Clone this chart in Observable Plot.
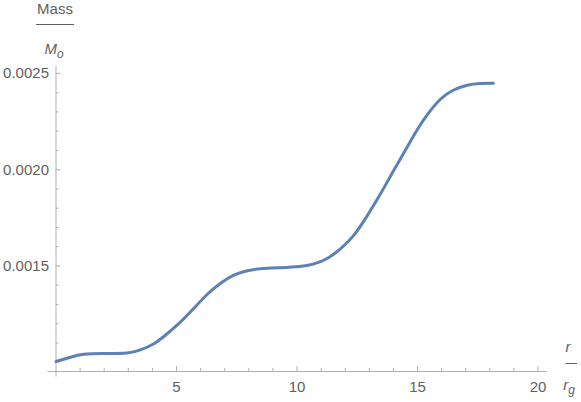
<!DOCTYPE html>
<html><head><meta charset="utf-8">
<script src="https://cdn.jsdelivr.net/npm/d3@7"></script>
<script src="https://cdn.jsdelivr.net/npm/@observablehq/plot@0.6"></script>
<style>html,body{margin:0;padding:0;background:#fff}</style>
</head><body><div id="chart"></div>
<script>
const radius = [0, 0.6, 1.15, 2.0, 2.95, 3.5, 4.06, 4.61, 5.17, 5.72, 6.27, 6.83, 7.38, 7.93, 8.5, 9.3, 10.1, 10.7, 11.25, 11.8, 12.36, 12.91, 13.47, 14.02, 14.57, 15.0, 15.4, 15.95, 16.5, 17.06, 17.6, 18.15];
const mass = [0.001004, 0.001026, 0.001041, 0.001045, 0.001048, 0.001064, 0.001096, 0.001148, 0.001210, 0.001280, 0.001352, 0.001410, 0.001452, 0.001475, 0.001486, 0.001491, 0.001497, 0.001511, 0.001539, 0.001589, 0.001660, 0.001760, 0.001876, 0.001998, 0.002118, 0.002210, 0.002285, 0.002366, 0.002414, 0.002439, 0.002448, 0.002449];
const xMajor = [5, 10, 15, 20];
const xMinor = [1, 2, 3, 4, 6, 7, 8, 9, 11, 12, 13, 14, 16, 17, 18, 19];
const yMajor = [0.0015, 0.0020, 0.0025];
const yMinor = [0.0010, 0.0011, 0.0012, 0.0013, 0.0014, 0.0016, 0.0017, 0.0018, 0.0019, 0.0021, 0.0022, 0.0023, 0.0024];
const xDomain = [0, 20.38];
const yDomain = [0.000952, 0.002536];

const data = radius.map((r, i) => ({r, m: mass[i]}));
const W = 581, H = 402;
const mL = 55.5, mR = 34.3, mT = 66, mB = 31;
const fw = W - mL - mR, fh = H - mT - mB;
const axisColor = "#b0b0b0";
const textColor = "#606060";
const font = "Liberation Sans, Arial, sans-serif";

const chart = Plot.plot({
  width: W, height: H,
  marginLeft: mL, marginRight: mR, marginTop: mT, marginBottom: mB,
  style: {fontFamily: font, fontSize: "15px", color: textColor, background: "#fff", overflow: "visible"},
  x: {domain: xDomain},
  y: {domain: yDomain},
  marks: [
    Plot.ruleY([yDomain[0]], {x1: -0.34, x2: xDomain[1], stroke: axisColor, strokeWidth: 1}),
    Plot.ruleX([0], {y1: 0.000923, y2: yDomain[1], stroke: axisColor, strokeWidth: 1}),
    Plot.ruleX(xMajor, {x: d => d, insetTop: fh - 5, stroke: axisColor}),
    Plot.ruleX(xMinor, {x: d => d, insetTop: fh - 3, stroke: axisColor}),
    Plot.ruleY(yMajor, {y: d => d, insetRight: fw - 5, stroke: axisColor}),
    Plot.ruleY(yMinor, {y: d => d, insetRight: fw - 3, stroke: axisColor}),
    Plot.axisX({ticks: xMajor, tickSize: 0, tickPadding: 10, label: null, fontSize: 15, fill: textColor}),
    Plot.axisY({ticks: yMajor, tickSize: 0, tickPadding: 7, label: null, tickFormat: d3.format(".4f"), fontSize: 15, fill: textColor}),
    Plot.line(data, {x: "r", y: "m", curve: "natural", stroke: "#5E81B5", strokeWidth: 3})
  ]
});
document.getElementById("chart").appendChild(chart);

const svg = d3.select(chart);
const g = svg.append("g").attr("font-family", font).attr("font-size", 15).attr("fill", textColor);
// y axis title: Mass / M_o
g.append("text").attr("x", 55).attr("y", 13.5).attr("text-anchor", "middle").text("Mass");
g.append("line").attr("x1", 36).attr("x2", 74).attr("y1", 24.5).attr("y2", 24.5).attr("stroke", textColor).attr("stroke-width", 1);
const mo = g.append("text").attr("x", 54).attr("y", 53.5).attr("text-anchor", "middle").attr("font-style", "italic");
mo.append("tspan").text("M");
mo.append("tspan").attr("dy", 4).attr("font-size", 12).text("o");
// x axis title: r / r_g
g.append("text").attr("x", 568).attr("y", 351.5).attr("text-anchor", "middle").attr("font-style", "italic").text("r");
g.append("line").attr("x1", 565.5).attr("x2", 577).attr("y1", 363.5).attr("y2", 363.5).attr("stroke", textColor).attr("stroke-width", 1);
const rg = g.append("text").attr("x", 569).attr("y", 389.5).attr("text-anchor", "middle").attr("font-style", "italic");
rg.append("tspan").text("r");
rg.append("tspan").attr("dy", 4).attr("font-size", 12).text("g");
</script>
</body></html>
